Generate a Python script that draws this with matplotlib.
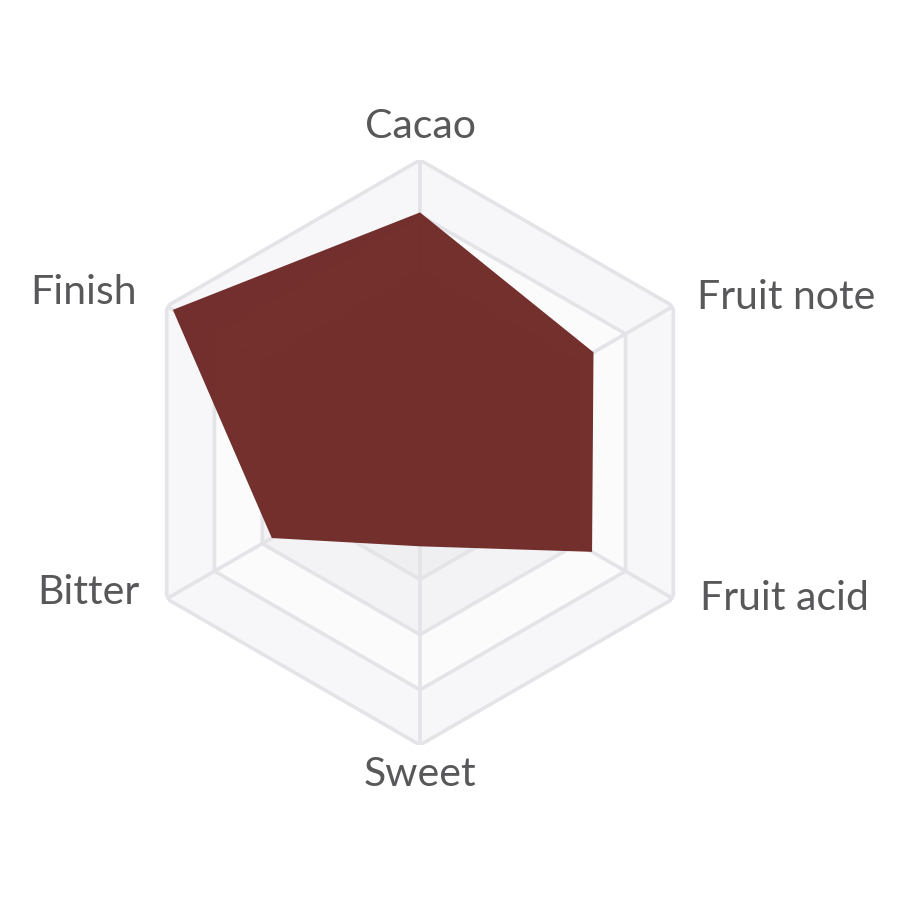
import numpy as np
import matplotlib.pyplot as plt

# flavour profile
categories = ["Cacao", "Fruit note", "Fruit acid", "Sweet", "Bitter", "Finish"]
values = [4.05, 3.33, 3.3, 1.4, 2.8, 4.87]
ring_levels = [0, 1, 2, 3, 4, 5]

r_min, r_max = -0.3, 5

plt.rcParams['font.family'] = ['Lato', 'DejaVu Sans']

fig = plt.figure(figsize=(9, 9), dpi=100)
cx, cy, rad = 420 / 900, (900 - 452.5) / 900, 292.5 / 900
ax = fig.add_axes([cx - rad, cy - rad, 2 * rad, 2 * rad], projection="polar")
ax.set_theta_offset(np.pi / 2)
ax.set_theta_direction(-1)
ax.set_ylim(r_min, r_max)
ax.axis("off")

n = len(categories)
angles = np.linspace(0, 2 * np.pi, n, endpoint=False)
closed = np.concatenate([angles, angles[:1]])

# background bands, outermost first
band_colors = ["#f7f7f9", "#fbfbfc", "#f3f3f5", "#efeff1", "#ececef", "#eaeaed"]
for lvl, col in zip(ring_levels[::-1], band_colors):
    ax.fill(closed, [lvl] * (n + 1), color=col, zorder=1, lw=0)
for lvl in ring_levels:
    ax.plot(closed, [lvl] * (n + 1), color="#e4e4e8", lw=2.6, zorder=2,
            solid_joinstyle="miter")
for a in angles:
    ax.plot([a, a], [r_min, r_max], color="#e4e4e8", lw=2.6, zorder=2)

# data polygon
vals = values + values[:1]
ax.fill(closed, vals, color="#6d2724", alpha=0.96, zorder=3, lw=0)

# labels
label_pos = [
    (0, 5.6, "center", "center"),
    (np.deg2rad(60.8), 5.45, "left", "center"),
    (np.deg2rad(117.6), 5.42, "left", "center"),
    (np.pi, 5.53, "center", "center"),
    (np.deg2rad(243.4), 5.38, "right", "center"),
    (np.deg2rad(299.4), 5.6, "right", "center"),
]
for name, (a, r, ha, va) in zip(categories, label_pos):
    ax.text(a, r, name, ha=ha, va=va, fontsize=29.5, color="#58585a",
            clip_on=False)

fig.savefig("out.png", dpi=100, facecolor="white")
